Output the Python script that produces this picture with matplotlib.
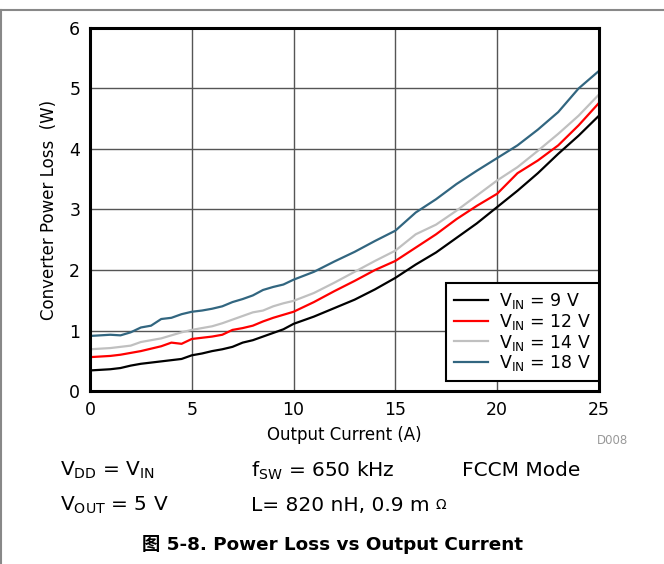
import matplotlib
matplotlib.use('Agg')
import matplotlib.pyplot as plt
from matplotlib.lines import Line2D

plt.rcParams['font.family'] = ['DejaVu Sans', 'Noto Sans CJK SC']
plt.rcParams['mathtext.fontset'] = 'dejavusans'

# output current (A)
current = [0, 0.5, 1, 1.5, 2, 2.5, 3, 3.5, 4, 4.5, 5, 5.5, 6, 6.5, 7, 7.5, 8, 8.5,
           9, 9.5, 10, 11, 12, 13, 14, 15, 16, 17, 18, 19, 20, 21, 22, 23, 24, 25]

# converter power loss (W)
loss_9v = [0.34, 0.35, 0.36, 0.38, 0.42, 0.45, 0.47, 0.49, 0.51, 0.53, 0.59, 0.62,
           0.66, 0.69, 0.73, 0.80, 0.84, 0.90, 0.96, 1.02, 1.11, 1.23, 1.37, 1.51,
           1.68, 1.87, 2.09, 2.29, 2.53, 2.77, 3.04, 3.31, 3.60, 3.92, 4.22, 4.55]
loss_12v = [0.56, 0.57, 0.58, 0.60, 0.63, 0.66, 0.70, 0.74, 0.80, 0.78, 0.86, 0.88,
            0.90, 0.93, 1.01, 1.04, 1.08, 1.15, 1.21, 1.26, 1.31, 1.47, 1.65, 1.82,
            2.00, 2.15, 2.37, 2.59, 2.84, 3.06, 3.26, 3.60, 3.81, 4.06, 4.39, 4.76]
loss_14v = [0.69, 0.70, 0.71, 0.73, 0.75, 0.81, 0.84, 0.87, 0.92, 0.97, 1.01, 1.04,
            1.07, 1.12, 1.18, 1.24, 1.30, 1.33, 1.40, 1.45, 1.49, 1.62, 1.79, 1.97,
            2.15, 2.32, 2.59, 2.75, 2.98, 3.23, 3.48, 3.70, 3.97, 4.25, 4.55, 4.90]
loss_18v = [0.91, 0.92, 0.93, 0.92, 0.97, 1.05, 1.08, 1.19, 1.21, 1.27, 1.31, 1.33,
            1.36, 1.40, 1.47, 1.52, 1.58, 1.67, 1.72, 1.76, 1.84, 1.97, 2.14, 2.30,
            2.48, 2.65, 2.95, 3.17, 3.42, 3.64, 3.85, 4.06, 4.32, 4.61, 5.00, 5.29]

labels = [r'V$_{\mathregular{IN}}$ = 9 V', r'V$_{\mathregular{IN}}$ = 12 V',
          r'V$_{\mathregular{IN}}$ = 14 V', r'V$_{\mathregular{IN}}$ = 18 V']
colors = ['black', '#ff0000', '#c0c0c0', '#326680']

fig = plt.figure(figsize=(6.64, 5.64), dpi=100)
ax = fig.add_axes([0.1355, 0.3067, 0.7665, 0.6437])

for y, lab, c in zip([loss_9v, loss_12v, loss_14v, loss_18v], labels, colors):
    ax.plot(current, y, color=c, lw=1.6, label=lab)

ax.set_xlim(0, 25)
ax.set_ylim(0, 6)
ax.set_xticks([0, 5, 10, 15, 20, 25])
ax.set_yticks([0, 1, 2, 3, 4, 5, 6])
ax.grid(True, color='#555555', lw=1)
ax.tick_params(length=0, labelsize=12.5, pad=7)
for s in ax.spines.values():
    s.set_linewidth(2.2)
ax.set_xlabel('Output Current (A)', fontsize=12, labelpad=5)
ax.set_ylabel('Converter Power Loss  (W)', fontsize=12, labelpad=8)

leg = ax.legend(loc='upper right', bbox_to_anchor=(1.0, 0.2975), borderaxespad=0,
                fancybox=False, framealpha=1, edgecolor='black', fontsize=12.5,
                handlelength=2.0, labelspacing=0.05, borderpad=0.45, handletextpad=0.6)
leg.get_frame().set_linewidth(1.5)

fig.text(0.946, 0.219, 'D008', fontsize=8.5, color='#999999', ha='right', va='center')

fs = 14.5
fig.text(0.09, 0.166, r'V$_{\mathregular{DD}}$ = V$_{\mathregular{IN}}$', fontsize=fs, va='center')
fig.text(0.378, 0.166, r'f$_{\mathregular{SW}}$ = 650 kHz', fontsize=fs, va='center')
fig.text(0.696, 0.166, 'FCCM Mode', fontsize=fs, va='center')
fig.text(0.09, 0.104, r'V$_{\mathregular{OUT}}$ = 5 V', fontsize=fs, va='center')
fig.text(0.378, 0.104, 'L= 820 nH, 0.9 m', fontsize=fs, va='center')
fig.text(0.656, 0.104, 'Ω', fontsize=10, va='center')
fig.text(0.5, 0.034, '图 5-8. Power Loss vs Output Current', fontsize=13.2,
         fontweight='bold', ha='center', va='center')

# document frame
fig.add_artist(Line2D([0, 1], [0.983, 0.983], transform=fig.transFigure, color='#888888', lw=1.5))
fig.add_artist(Line2D([0.002, 0.002], [0, 0.983], transform=fig.transFigure, color='#888888', lw=1.5))

fig.savefig('out.png', dpi=100)
